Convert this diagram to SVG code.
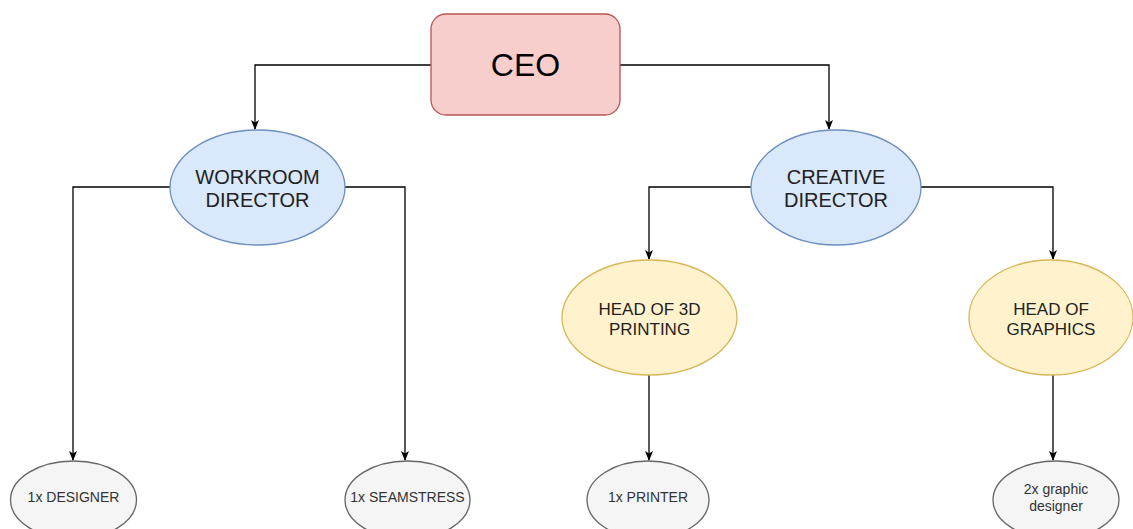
<svg xmlns="http://www.w3.org/2000/svg" width="1133" height="529" viewBox="0 0 1133 529">
  <defs>
    <marker id="arrow" viewBox="0 0 10 10" refX="9" refY="5" markerWidth="10" markerHeight="10" markerUnits="userSpaceOnUse" orient="auto">
      <path d="M0,1 L10,5 L0,9 L2.5,5 Z" fill="#000"/>
    </marker>
    <style>
      text { font-family: "Liberation Sans", Arial, sans-serif; text-anchor: middle; }
      .edge { fill: none; stroke: #000; stroke-width: 1.3; marker-end: url(#arrow); }
      .red { fill: #f8cecc; stroke: #b85450; stroke-width: 1.3; }
      .blue { fill: #dae8fc; stroke: #6c8ebf; stroke-width: 1.3; }
      .yellow { fill: #fff2cc; stroke: #d6b656; stroke-width: 1.3; }
      .gray { fill: #f5f5f5; stroke: #666666; stroke-width: 1.3; }
      .t-big { font-size: 32px; fill: #000; }
      .t-mid { font-size: 20px; fill: #222; }
      .t-sub { font-size: 17px; fill: #222; }
      .t-small { font-size: 14px; fill: #333; }
    </style>
  </defs>
  <rect width="1133" height="529" fill="#fff"/>

  <g id="connectors">
    <path class="edge" d="M431,65 H255 V129"/>
    <path class="edge" d="M620,65 H829 V129"/>
    <path class="edge" d="M170,187 H73 V460"/>
    <path class="edge" d="M345,187 H405 V460"/>
    <path class="edge" d="M751,187 H649 V259"/>
    <path class="edge" d="M920,187 H1053 V259"/>
    <path class="edge" d="M649,375 V460"/>
    <path class="edge" d="M1053,375 V460"/>
  </g>

  <g id="ceo">
    <rect class="red" x="431" y="14" width="189" height="101" rx="15"/>
    <text class="t-big" x="525.5" y="76">CEO</text>
  </g>

  <g id="workroom-director">
    <ellipse class="blue" cx="257.5" cy="187.5" rx="87.5" ry="57.5"/>
    <text class="t-mid" x="257.5" y="184">WORKROOM</text>
    <text class="t-mid" x="257.5" y="207">DIRECTOR</text>
  </g>

  <g id="creative-director">
    <ellipse class="blue" cx="836" cy="187.5" rx="85" ry="57.5"/>
    <text class="t-mid" x="836" y="184">CREATIVE</text>
    <text class="t-mid" x="836" y="207">DIRECTOR</text>
  </g>

  <g id="head-3d-printing">
    <ellipse class="yellow" cx="649.5" cy="317.5" rx="87.5" ry="57.5"/>
    <text class="t-sub" x="649.5" y="315">HEAD OF 3D</text>
    <text class="t-sub" x="649.5" y="335">PRINTING</text>
  </g>

  <g id="head-graphics">
    <ellipse class="yellow" cx="1051" cy="317.5" rx="82" ry="57.5"/>
    <text class="t-sub" x="1051" y="315">HEAD OF</text>
    <text class="t-sub" x="1051" y="335">GRAPHICS</text>
  </g>

  <g id="designer">
    <ellipse class="gray" cx="73.5" cy="500" rx="63" ry="39"/>
    <text class="t-small" x="73.5" y="502">1x DESIGNER</text>
  </g>

  <g id="seamstress">
    <ellipse class="gray" cx="407.5" cy="500" rx="62.5" ry="39"/>
    <text class="t-small" x="407.5" y="502">1x SEAMSTRESS</text>
  </g>

  <g id="printer">
    <ellipse class="gray" cx="648" cy="500" rx="61" ry="39"/>
    <text class="t-small" x="648" y="502">1x PRINTER</text>
  </g>

  <g id="graphic-designer">
    <ellipse class="gray" cx="1056" cy="500" rx="63" ry="39"/>
    <text class="t-small" x="1056" y="494">2x graphic</text>
    <text class="t-small" x="1056" y="511">designer</text>
  </g>
</svg>
